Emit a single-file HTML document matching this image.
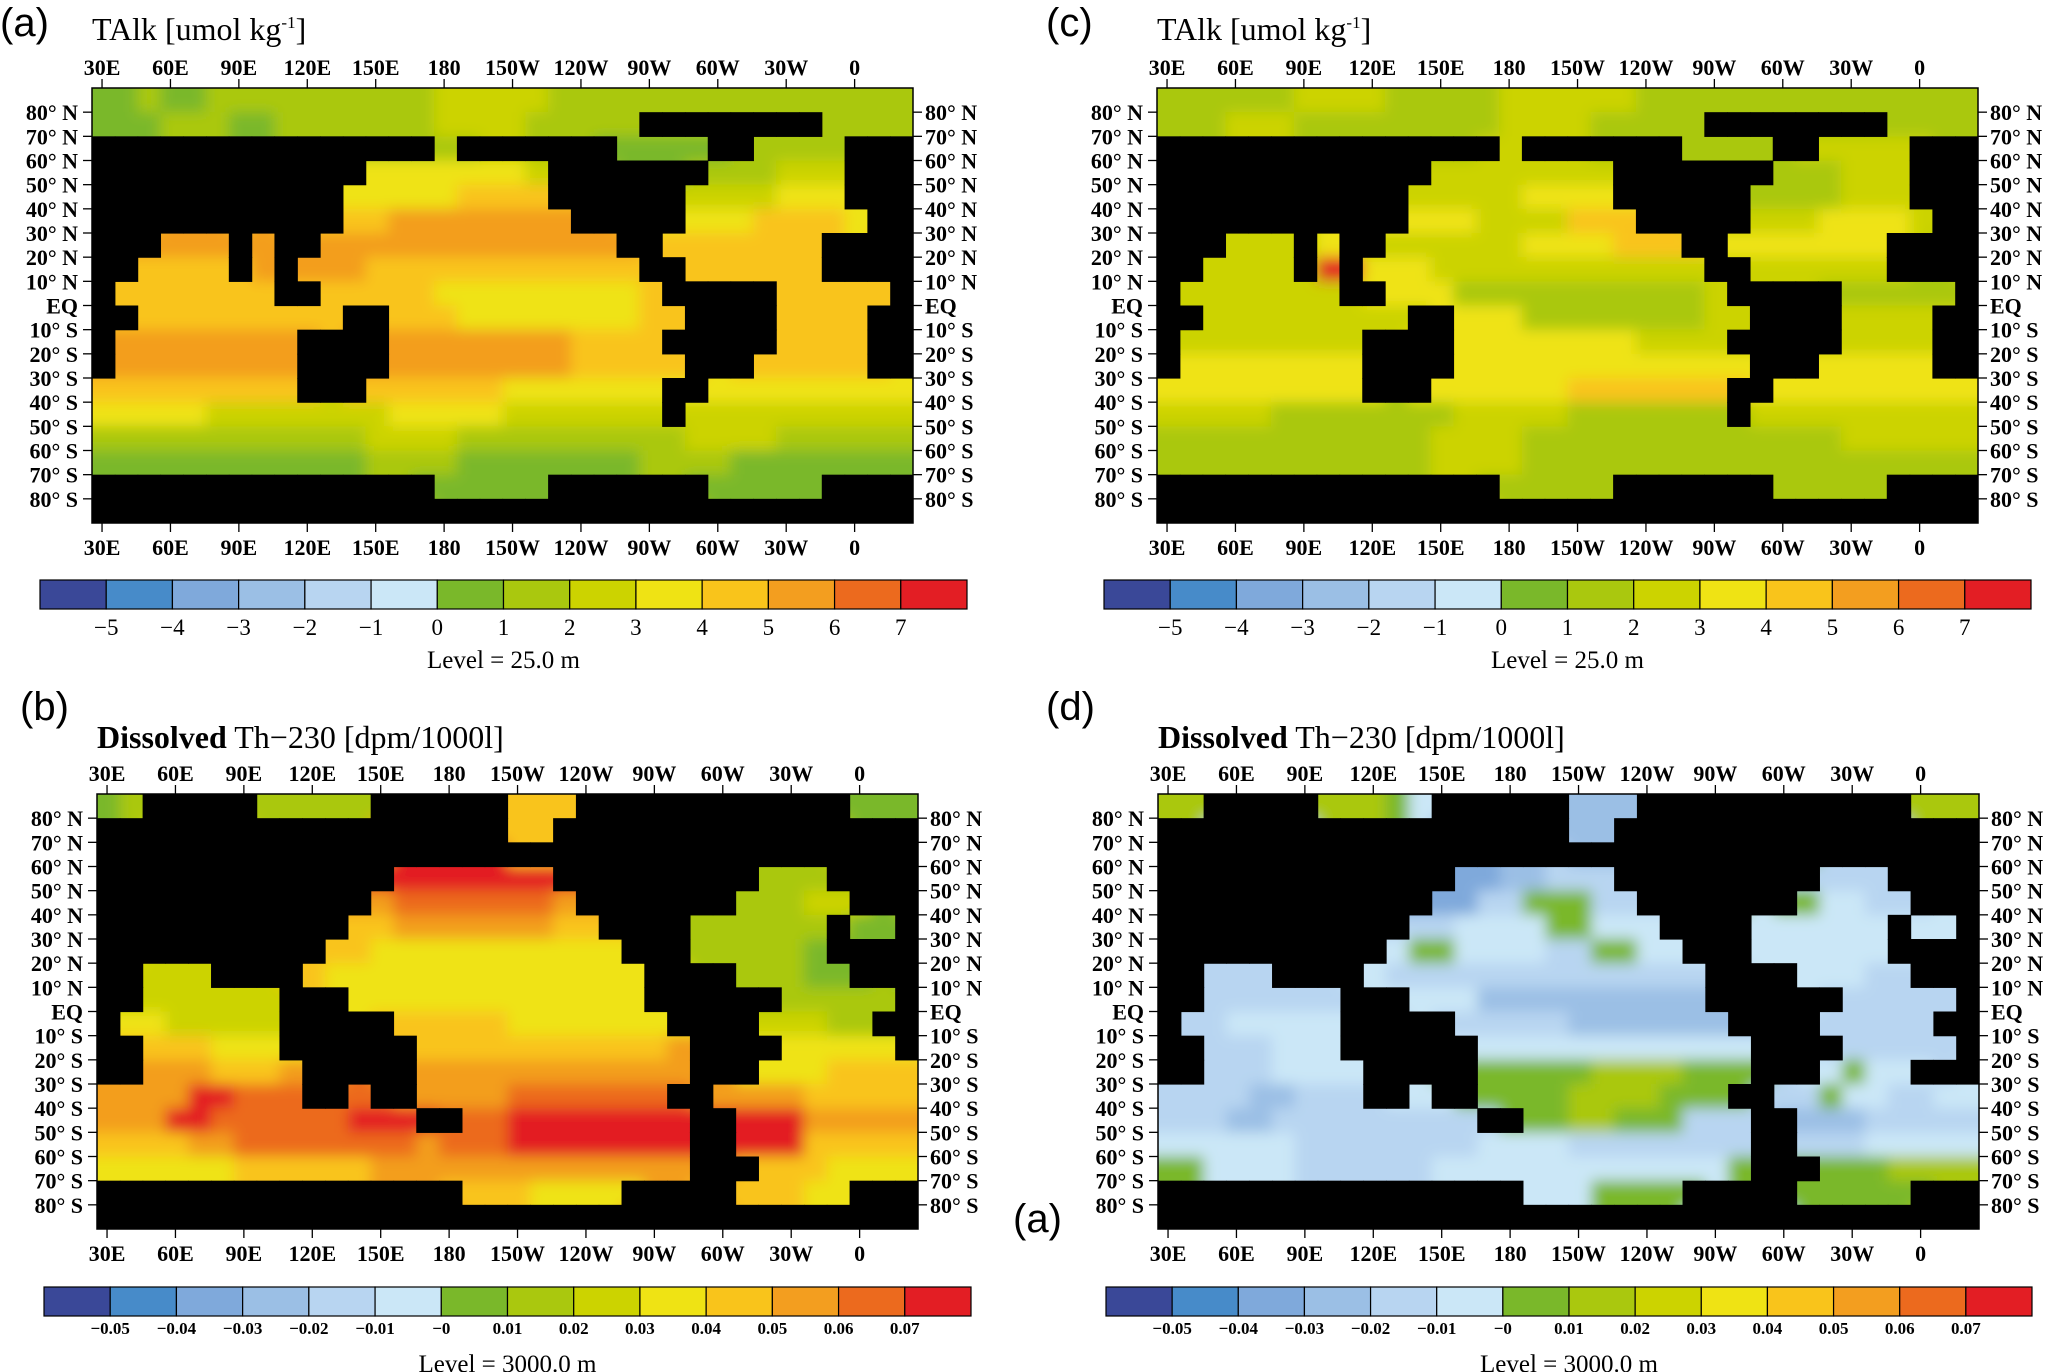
<!DOCTYPE html>
<html><head><meta charset="utf-8"><style>
html,body{margin:0;padding:0;background:#fff;}
body{width:2059px;height:1372px;overflow:hidden;position:relative;}
svg{position:absolute;left:0;top:0;}
</style></head><body>
<svg id="fig" width="2059" height="1372" viewBox="0 0 2059 1372">
<defs><filter id="soft" x="-5%" y="-5%" width="110%" height="110%"><feGaussianBlur stdDeviation="7"/></filter></defs>
</svg>
<script>
// colour-bin letters a..n, '#' = land. Rows: 90N->90S in 10deg bands, 36 columns of 10deg from ~25E.
const panelA = ["g2 h1 g2 h10 i5 h16","g3 h3 g2 h7 i4 h5 #8 h4","#15 h1 #7 g4 #2 h4 #3","#12 j7 i1 #7 h3 i3 #3","#11 j5 k4 #6 i4 j3 #3","#11 k2 l8 #5 j3 k4 j1 #2","#3 l3 #1 l1 #2 l13 #2 k7 #4","#2 k4 #1 l1 #1 l3 k9 k3 #2 k6 #4","#1 k7 #2 k5 j9 k1 #5 k5 #1","#2 k6 k2 k1 #2 k3 j8 k2 #4 k4 #2","#1 l8 #4 l8 k4 #5 k4 #2","#1 l8 #4 l8 k4 k1 #3 k5 #2","k9 #3 k6 j7 #2 j9","j5 i8 j5 i7 #1 i10","h12 i4 h10 i4 h6","g12 h4 g8 h4 g8","#15 g5 #7 g5 #4","#36"];
const panelC = ["h6 i4 h5 i6 h15","h3 i3 h2 h7 i4 h5 #8 h4","#15 i1 #7 h4 #2 i4 #3","#12 i7 i1 #7 h3 i3 #3","#11 i5 j4 #6 h4 i3 #3","#11 j3 i4 k3 #5 i3 j4 i1 #2","#3 i3 #1 j1 #2 i6 j4 k3 #2 j7 #4","#2 i4 #1 n1 #1 j3 i9 i3 #2 i6 #4","#1 i7 #2 j3 h11 i1 #5 h5 #1","#2 i6 i2 i1 #2 j3 h8 i2 #4 i4 #2","#1 i8 #4 j8 i4 #5 i4 #2","#1 j8 #4 j8 j4 j1 #3 j5 #2","j9 #3 j6 k7 #2 j9","i5 h8 i5 h7 #1 i10","h12 i4 h10 h4 i6","h12 i4 h8 h4 h8","#15 h5 #7 h5 #4","#36"];
const panelB = ["g1 h1 #5 h5 #6 k3 #12 g3","#18 k2 #16","#36","#13 n7 #9 h3 #4","#12 l1 m7 l1 #7 h3 i2 #3","#11 k2 l7 k2 #4 h6 #1 g2 #1","#10 k2 j9 j2 #3 h5 g1 #4","#2 i3 #4 k1 j14 #4 h3 g2 #3","#2 i6 #3 j13 #6 h5 #1","#1 j2 i5 #5 k5 j7 #4 i3 h2 #2","#2 k3 j3 #6 k11 l1 #4 j5 #1","#2 l3 k3 l1 #5 l12 #3 j3 k4","l4 n2 m3 #2 m1 #2 l4 m7 #2 l4 k5","l3 n2 m6 n3 #2 m2 n8 #2 n3 l5","k4 l2 m8 l1 m3 n8 #2 n3 k5","j6 k6 l7 l6 l1 #3 k3 j4","#16 k3 j4 #5 k3 j2 #3","#36"];
const panelD = ["h1 h1 #5 h3 g1 f1 #6 d3 #12 h3","#18 d2 #16","#36","#13 c2 d2 e3 #9 e3 #4","#12 c2 e2 g3 e2 #7 g1 f2 e2 #3","#11 e2 f4 g2 f3 #4 f6 #1 f2 #1","#10 f1 g2 f4 e2 g2 f2 #3 f5 f1 #4","#2 e3 #4 f1 e14 #4 f3 e2 #3","#2 e6 #3 f3 d6 d4 #6 e5 #1","#1 e2 f5 #5 e5 d7 #4 e3 e2 #2","#2 e3 f3 #6 f4 f7 f1 #4 e5 #1","#2 e3 f3 f1 #5 g5 h4 g3 #3 f1 g1 f2","e4 d2 e3 #2 f1 #2 g4 h4 g3 #2 e2 g1 f2 e2 f2","e3 d2 e6 e3 #2 g2 h2 g3 e3 #2 d3 e5","f6 e8 f1 f3 e8 #2 e3 f5","g2 f4 e6 f7 f6 g1 #3 g3 h4","#16 f3 g4 #5 g3 g2 #3","#36"];
const binColors = ["#3a4898","#478bc9","#7fa9db","#9bbfe5","#b8d5f1","#cbe7f7","#7ab82a","#aac80e","#ccd300","#efe314","#f9c41b","#f39e1f","#ec6a1e","#e31e24"];
const lonTicks = [30,60,90,120,150,180,210,240,270,300,330,360];
const lonLabels = ["30E","60E","90E","120E","150E","180","150W","120W","90W","60W","30W","0"];
const latTicks = [80,70,60,50,40,30,20,10,0,-10,-20,-30,-40,-50,-60,-70,-80];
const latLabels = ["80° N","70° N","60° N","50° N","40° N","30° N","20° N","10° N","EQ","10° S","20° S","30° S","40° S","50° S","60° S","70° S","80° S"];
const cbLabelsA = ["−5","−4","−3","−2","−1","0","1","2","3","4","5","6","7"];
const cbLabelsB = ["−0.05","−0.04","−0.03","−0.02","−0.01","−0","0.01","0.02","0.03","0.04","0.05","0.06","0.07"];

const NS="http://www.w3.org/2000/svg";
const svg=document.getElementById('fig');
function mk(tag,attrs,parent){const e=document.createElementNS(NS,tag);for(const k in attrs)e.setAttribute(k,attrs[k]);(parent||svg).appendChild(e);return e;}
function decode(rle){const out=[];rle.trim().split(/\s+/).forEach(t=>{const c=t[0],n=parseInt(t.slice(1));for(let i=0;i<n;i++)out.push(c);});while(out.length<36)out.push('#');return out;}
let clipId=0;
function panel(o){
  const g=mk('g',{});
  
  
  const L=o.L,T=o.T,W=821,H=435;
  const xLon=lon=>L+(lon-25.6)*W/360;
  const yLat=lat=>T+(90-lat)*H/180;
  const cw=W/36,ch=H/18;
  const cid='clip'+(clipId++);
  const cp=mk('clipPath',{id:cid},svg.querySelector('defs'));
  mk('rect',{x:L,y:T,width:W,height:H},cp);
  const grids=o.grid.map(decode);
  // fill land in ocean layer with nearest ocean colour so blur doesn't darken coasts
  const fillGrid=grids.map((row,r)=>row.map((c,i)=>{
    if(c!=='#')return c;
    for(let d=1;d<36;d++){
      for(const [rr,ii] of [[r,i-d],[r,i+d],[r-d,i],[r+d,i]]){
        if(rr>=0&&rr<18&&ii>=0&&ii<36&&grids[rr][ii]!=='#')return grids[rr][ii];
      }
    }
    return 'g';
  }));
  const outer=mk('g',{'clip-path':'url(#'+cid+')'},g);
  const ocean=mk('g',{filter:'url(#soft)'},outer);
  
  
  fillGrid.forEach((row,r)=>row.forEach((c,i)=>{
    const cell=mk('rect',{x:(L+i*cw-(i===0?20:0)).toFixed(2),y:(T+r*ch-(r===0?20:0)).toFixed(2),width:(cw+0.6+(i===0||i===35?20:0)).toFixed(2),height:(ch+0.6+(r===0||r===17?20:0)).toFixed(2),fill:binColors[c.charCodeAt(0)-97]},ocean);
    
    
  }));
  const land=mk('g',{},outer);
  
  
  grids.forEach((row,r)=>row.forEach((c,i)=>{
    if(c!=='#')return;
    const cell=mk('rect',{x:(L+i*cw).toFixed(2),y:(T+r*ch).toFixed(2),width:(cw+0.6).toFixed(2),height:(ch+0.6).toFixed(2),fill:'#000'},land);
    
    
  }));
  mk('rect',{x:L,y:T,width:W,height:H,fill:'none',stroke:'#000','stroke-width':1.5},g);
  const tf='font-family:"Liberation Serif",serif;font-weight:bold;font-size:22px;';
  lonTicks.forEach((lon,i)=>{
    const x=xLon(lon);
    mk('line',{x1:x,y1:T,x2:x,y2:T-9,stroke:'#000','stroke-width':1.3},g);
    mk('line',{x1:x,y1:T+H,x2:x,y2:T+H+9,stroke:'#000','stroke-width':1.3},g);
    const t1=mk('text',{x:x,y:T-13,'text-anchor':'middle',style:tf},g);t1.textContent=lonLabels[i];
    
    
    const t2=mk('text',{x:x,y:T+H+32,'text-anchor':'middle',style:tf},g);t2.textContent=lonLabels[i];
    
    
  });
  latTicks.forEach((lat,i)=>{
    const y=yLat(lat);
    mk('line',{x1:L,y1:y,x2:L-9,y2:y,stroke:'#000','stroke-width':1.3},g);
    mk('line',{x1:L+W,y1:y,x2:L+W+9,y2:y,stroke:'#000','stroke-width':1.3},g);
    const t1=mk('text',{x:L-14,y:y+8,'text-anchor':'end',style:tf},g);t1.textContent=latLabels[i];
    
    
    const t2=mk('text',{x:L+W+12,y:y+8,'text-anchor':'start',style:tf},g);t2.textContent=latLabels[i];
    
    
  });
  const pl=mk('text',{x:o.lx,y:o.ly,style:'font-family:"Liberation Sans",sans-serif;font-size:40px;'},g);pl.textContent=o.letter;
  
  
  const tt=mk('text',{x:L,y:o.ty,style:'font-family:"Liberation Serif",serif;font-size:32px;'},g);
  
  
  if(o.kind==='a'){tt.innerHTML='TAlk [umol kg<tspan dy="-12" font-size="17">-1</tspan><tspan dy="12">]</tspan>';}
  else{tt.innerHTML='<tspan font-weight="bold">Dissolved</tspan> Th−230 [dpm/1000l]';}
  const cb=mk('g',{},g);
  
  
  const bw=(o.cbR-o.cbL)/14;
  binColors.forEach((c,i)=>{
    const r=mk('rect',{x:o.cbL+i*bw,y:o.cbT,width:bw,height:29,fill:c,stroke:'#000','stroke-width':1.2},cb);
    
    
  });
  const labs=o.kind==='a'?cbLabelsA:cbLabelsB;
  const lf=o.kind==='a'?'font-family:"Liberation Serif",serif;font-size:23px;':'font-family:"Liberation Serif",serif;font-weight:bold;font-size:17px;';
  labs.forEach((s,i)=>{
    const t=mk('text',{x:o.cbL+(i+1)*bw,y:o.cbT+(o.kind==='a'?55:47),'text-anchor':'middle',style:lf},cb);t.textContent=s;
    
    
  });
  const lv=mk('text',{x:(o.cbL+o.cbR)/2,y:o.cbT+(o.kind==='a'?88:85),'text-anchor':'middle',style:'font-family:"Liberation Serif",serif;font-size:25px;'},cb);
  lv.textContent=o.kind==='a'?'Level =  25.0  m':'Level = 3000.0  m';
  
  
}
panel({name:'panel-a',grid:panelA,L:92,T:88,lx:0,ly:36,letter:'(a)',ty:40,kind:'a',cbL:40,cbR:967,cbT:580});
panel({name:'panel-c',grid:panelC,L:1157,T:88,lx:1046,ly:36,letter:'(c)',ty:40,kind:'a',cbL:1104,cbR:2031,cbT:580});
panel({name:'panel-b',grid:panelB,L:97,T:794,lx:20,ly:720,letter:'(b)',ty:748,kind:'b',cbL:44,cbR:971,cbT:1287});
panel({name:'panel-d',grid:panelD,L:1158,T:794,lx:1046,ly:720,letter:'(d)',ty:748,kind:'b',cbL:1106,cbR:2032,cbT:1287});
const stray=mk('text',{x:1013,y:1232,style:'font-family:"Liberation Sans",sans-serif;font-size:40px;'});
stray.textContent='(a)';


</script>
</body></html>
